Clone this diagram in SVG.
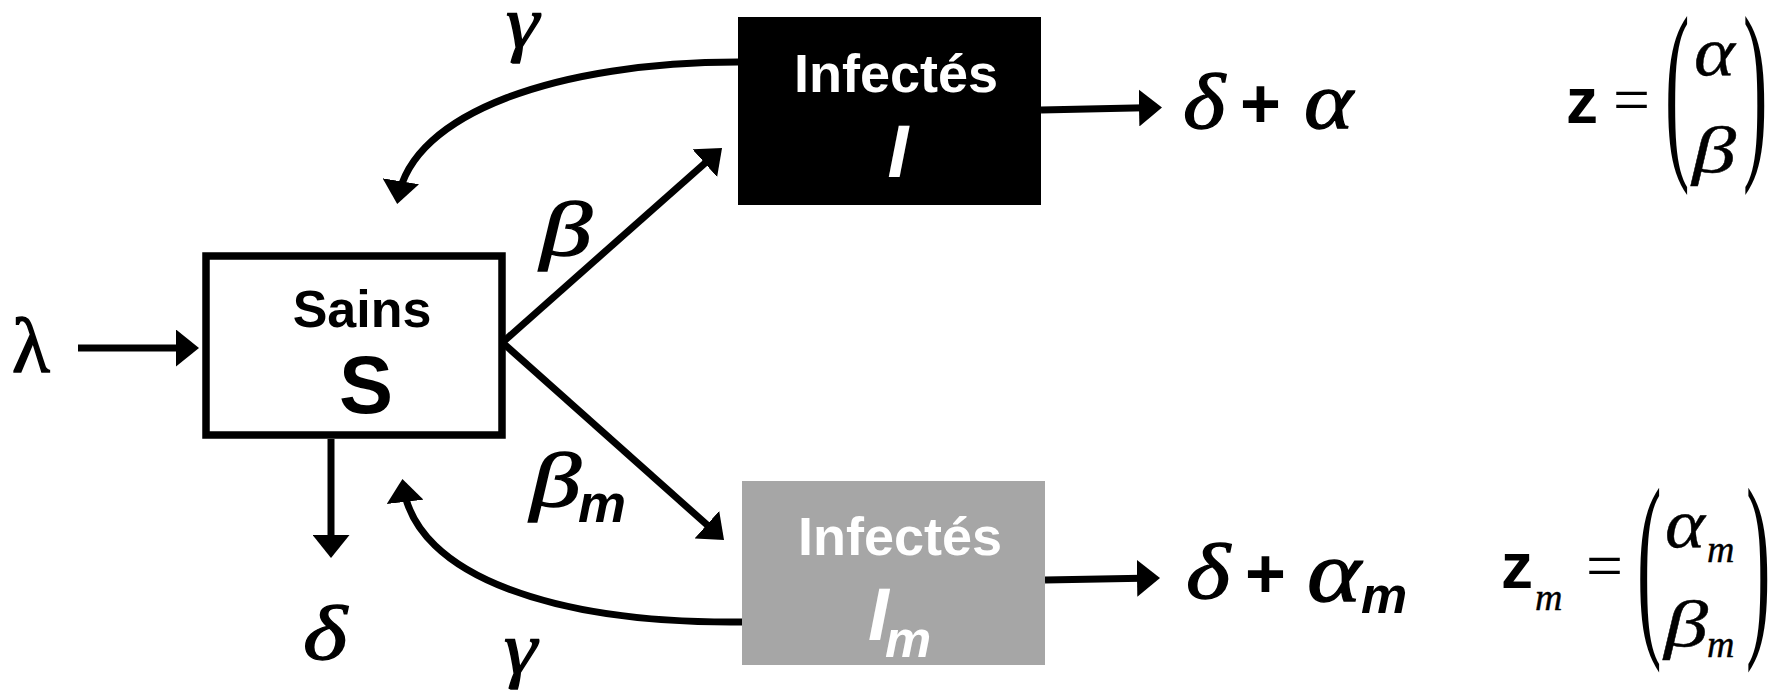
<svg xmlns="http://www.w3.org/2000/svg" width="1783" height="691" viewBox="0 0 1783 691">
<style>
.box{stroke:#000;stroke-width:7.5;fill:#fff}
.conn{stroke:#000;stroke-width:7;fill:none;marker-end:url(#ah)}
.gr{font-family:"Liberation Serif","Times New Roman",serif;font-style:italic;fill:#000;stroke:#000;stroke-width:1.3}
.gm{font-family:"Liberation Serif","Times New Roman",serif;font-style:italic;fill:#000;stroke:#000;stroke-width:0.4}
.up{font-family:"Liberation Serif","Times New Roman",serif;fill:#000}
.sb{font-family:"Liberation Sans",Arial,sans-serif;font-weight:bold;stroke:none}
.sbi{font-family:"Liberation Sans",Arial,sans-serif;font-weight:bold;font-style:italic;stroke:none}
.wt{fill:#fff}
</style>
<defs>
<marker id="ah" markerUnits="userSpaceOnUse" markerWidth="23" markerHeight="37" viewBox="0 0 23 37" refX="18" refY="18.5" orient="auto"><path d="M0,0 L23,18.5 L0,37 z" fill="#000"/></marker>
</defs>

<g id="connectors">
<line class="conn" x1="78" y1="348" x2="194" y2="348"/>
<line class="conn" x1="331" y1="439" x2="331" y2="553"/>
<line class="conn" x1="503" y1="342" x2="718.3" y2="151.3"/>
<line class="conn" x1="503" y1="343" x2="720.3" y2="536.7"/>
<line class="conn" x1="1041" y1="110" x2="1157" y2="107.6"/>
<line class="conn" x1="1045" y1="580" x2="1155" y2="578"/>
<path class="conn" d="M738,62 C560,62 412,112 398,199"/>
<path class="conn" d="M743,622 C560,624 414,578 403,484"/>
</g>

<g id="node-S">
<rect class="box" x="206" y="256" width="296" height="179"/>
<text class="sb" x="362" y="327" font-size="52" text-anchor="middle">Sains</text>
<text class="sb" x="366" y="413" font-size="81" text-anchor="middle">S</text>
</g>

<g id="node-I">
<rect x="738" y="17" width="303" height="188" fill="#000"/>
<text class="sb wt" x="896" y="92" font-size="54" text-anchor="middle">Infectés</text>
<text class="sbi wt" x="898" y="177" font-size="75" text-anchor="middle">I</text>
</g>

<g id="node-Im">
<rect x="742" y="481" width="303" height="184" fill="#a6a6a6"/>
<text class="sb wt" x="900" y="555" font-size="54" text-anchor="middle">Infectés</text>
<text class="sbi wt" font-size="75"><tspan x="868" y="640">I</tspan><tspan x="885" y="657" font-size="52">m</tspan></text>
</g>

<g id="labels">
<text class="up" x="12" y="372" font-size="78" stroke="#000" stroke-width="1.5">λ</text>
<text class="gr" x="506" y="47" font-size="74" stroke-width="0.9" textLength="33" lengthAdjust="spacingAndGlyphs">γ</text>
<text class="gr" x="504" y="673" font-size="74" stroke-width="0.9" textLength="33" lengthAdjust="spacingAndGlyphs">γ</text>
<text class="gr" x="303" y="659" font-size="76" textLength="44" lengthAdjust="spacingAndGlyphs">δ</text>
<text class="gr" x="540" y="255" font-size="77" textLength="52" lengthAdjust="spacingAndGlyphs">β</text>
<text class="gr" x="530" y="506" font-size="77" textLength="51" lengthAdjust="spacingAndGlyphs">β</text>
<text class="sbi" x="578" y="522" font-size="54">m</text>
<text class="gr" x="1183" y="128" font-size="78" textLength="42" lengthAdjust="spacingAndGlyphs">δ</text>
<text class="sb" x="1240" y="128" font-size="70">+</text>
<text class="gr" x="1304" y="128" font-size="80" textLength="49" lengthAdjust="spacingAndGlyphs">α</text>
<text class="gr" x="1186" y="598" font-size="78" textLength="44" lengthAdjust="spacingAndGlyphs">δ</text>
<text class="sb" x="1245" y="598" font-size="70">+</text>
<text class="gr" x="1307" y="601" font-size="86" textLength="54" lengthAdjust="spacingAndGlyphs">α</text>
<text class="sbi" x="1361" y="613" font-size="52">m</text>
</g>

<g id="eq-z">
<text class="sb" x="1566" y="123" font-size="64">z</text>
<text class="up" x="1613" y="122" font-size="66" textLength="37" lengthAdjust="spacingAndGlyphs">=</text>
<text class="up" transform="translate(1665,153) scale(1.05,2.82)" font-size="70">(</text>
<text class="up" transform="translate(1743,153) scale(1.05,2.82)" font-size="70">)</text>
<text class="gm" x="1694" y="75" font-size="70" textLength="41" lengthAdjust="spacingAndGlyphs">α</text>
<text class="gm" x="1692" y="172" font-size="66" textLength="44" lengthAdjust="spacingAndGlyphs">β</text>
</g>

<g id="eq-zm">
<text class="sb" x="1501" y="588" font-size="64">z</text>
<text class="gm" x="1535" y="610" font-size="38">m</text>
<text class="up" x="1586" y="588" font-size="66" textLength="37" lengthAdjust="spacingAndGlyphs">=</text>
<text class="up" transform="translate(1637,629) scale(1.05,2.9)" font-size="70">(</text>
<text class="up" transform="translate(1746,629) scale(1.05,2.9)" font-size="70">)</text>
<text class="gm" x="1665" y="547" font-size="70" textLength="40" lengthAdjust="spacingAndGlyphs">α</text>
<text class="gm" x="1707" y="562" font-size="38">m</text>
<text class="gm" x="1664" y="646" font-size="66" textLength="44" lengthAdjust="spacingAndGlyphs">β</text>
<text class="gm" x="1707" y="657" font-size="38">m</text>
</g>
</svg>
